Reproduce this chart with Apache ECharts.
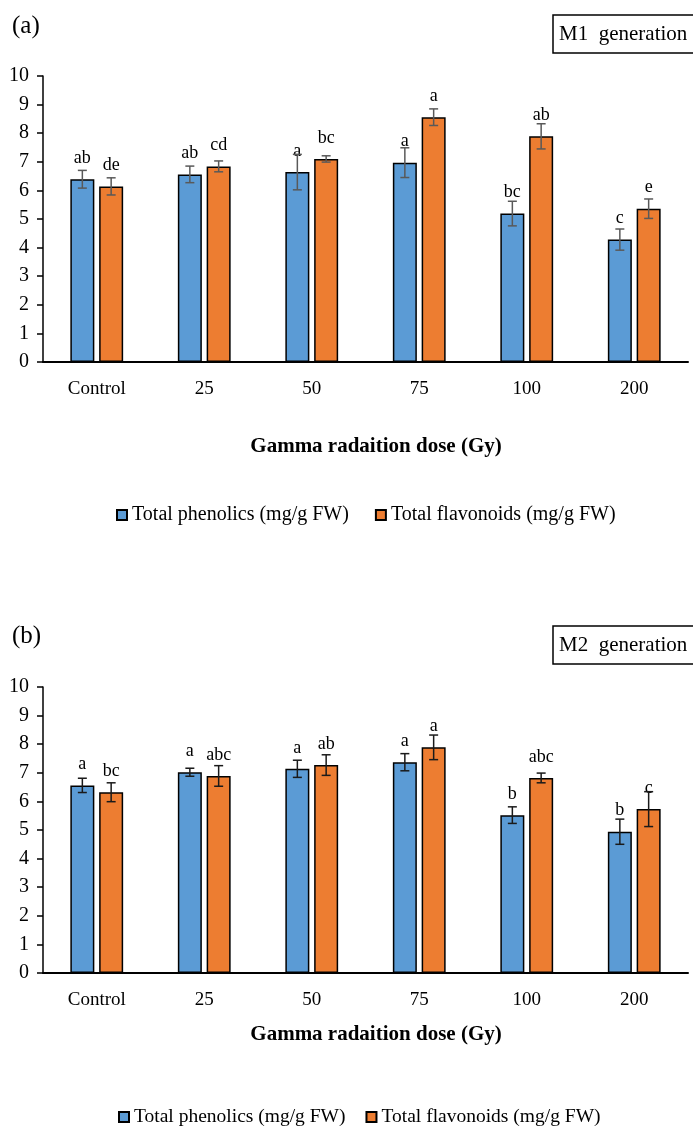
<!DOCTYPE html>
<html>
<head>
<meta charset="utf-8">
<script src="https://cdn.jsdelivr.net/npm/echarts@6/dist/echarts.min.js"></script>
<style>html,body{margin:0;padding:0;background:#fff;}#c{width:693px;height:1127px;}</style>
</head>
<body>
<div id="c"></div>
<script>
const categories = ['Control', '25', '50', '75', '100', '200'];
const seriesNames = ['Total phenolics (mg/g FW)', 'Total flavonoids (mg/g FW)'];

const m1Phenolics = [6.39, 6.56, 6.64, 6.97, 5.19, 4.28];
const m1PhenolicsErr = [0.31, 0.29, 0.62, 0.52, 0.43, 0.37];
const m1PhenolicsLetters = ['ab', 'ab', 'a', 'a', 'bc', 'c'];
const m1Flavonoids = [6.14, 6.84, 7.10, 8.56, 7.89, 5.36];
const m1FlavonoidsErr = [0.30, 0.19, 0.11, 0.29, 0.44, 0.34];
const m1FlavonoidsLetters = ['de', 'cd', 'bc', 'a', 'ab', 'e'];

const m2Phenolics = [6.56, 7.02, 7.14, 7.37, 5.52, 4.94];
const m2PhenolicsErr = [0.25, 0.14, 0.30, 0.30, 0.29, 0.44];
const m2PhenolicsLetters = ['a', 'a', 'a', 'a', 'b', 'b'];
const m2Flavonoids = [6.32, 6.89, 7.27, 7.89, 6.82, 5.73];
const m2FlavonoidsErr = [0.33, 0.36, 0.36, 0.43, 0.17, 0.61];
const m2FlavonoidsLetters = ['bc', 'abc', 'ab', 'a', 'abc', 'c'];

const yTicks = { min: 0, max: 10, interval: 1 };

const FONT = "'Liberation Serif','Times New Roman',serif";
const BLUE = '#5B9BD5';
const ORANGE = '#ED7D31';
const BAR_W = 24;
const GAP_FRAC = 0.2;
const OFFSET = BAR_W / 2 + BAR_W * GAP_FRAC / 2;

function barSeries(name, values, letters, color, axisIdx) {
  return {
    type: 'bar', name: name, xAxisIndex: axisIdx, yAxisIndex: axisIdx,
    data: values, barWidth: BAR_W, barGap: (GAP_FRAC * 100) + '%',
    itemStyle: { color: color, borderColor: '#000', borderWidth: 1.5 },
    label: {
      show: true, position: 'top', distance: 12, color: '#000',
      fontFamily: FONT, fontSize: 18,
      formatter: function (p) { return letters[p.dataIndex]; }
    },
    z: 2
  };
}

function errSeries(values, errs, side, axisIdx, stroke) {
  return {
    type: 'custom', xAxisIndex: axisIdx, yAxisIndex: axisIdx, silent: true, z: 5,
    data: values.map(function (v, i) { return [i, v, errs[i]]; }),
    encode: { x: 0, y: 1 },
    renderItem: function (params, api) {
      const i = api.value(0), v = api.value(1), e = api.value(2);
      const c = api.coord([i, v]);
      const x = c[0] + side * OFFSET;
      const hi = api.coord([i, v + e])[1];
      const lo = api.coord([i, v - e])[1];
      const st = { stroke: stroke, lineWidth: 1.5 };
      return {
        type: 'group', children: [
          { type: 'line', shape: { x1: x, y1: hi, x2: x, y2: lo }, style: st },
          { type: 'line', shape: { x1: x - 4.5, y1: hi, x2: x + 4.5, y2: hi }, style: st },
          { type: 'line', shape: { x1: x - 4.5, y1: lo, x2: x + 4.5, y2: lo }, style: st }
        ]
      };
    }
  };
}

function xAxisCfg(idx) {
  return {
    type: 'category', gridIndex: idx, data: categories,
    axisLine: { lineStyle: { color: '#000', width: 2 } },
    axisTick: { show: false },
    axisLabel: { color: '#000', fontFamily: FONT, fontSize: 19, margin: 18 }
  };
}
function yAxisCfg(idx) {
  return {
    type: 'value', gridIndex: idx, min: yTicks.min, max: yTicks.max, interval: yTicks.interval,
    axisLine: { show: true, lineStyle: { color: '#000', width: 1.5 } },
    axisTick: { show: true, length: 6, lineStyle: { color: '#000', width: 1.5 } },
    splitLine: { show: false },
    axisLabel: { color: '#000', fontFamily: FONT, fontSize: 20, margin: 14 }
  };
}

function txt(x, y, s, size, opts) {
  return Object.assign({
    type: 'text', x: x, y: y, silent: true,
    style: Object.assign({ text: s, fill: '#000', fontFamily: FONT, fontSize: size }, opts || {})
  });
}

const chart = echarts.init(document.getElementById('c'), null, { renderer: 'canvas' });
chart.setOption({
  backgroundColor: '#fff',
  animation: false,
  grid: [
    { left: 43, right: 5, top: 76, height: 286 },
    { left: 43, right: 5, top: 687, height: 286 }
  ],
  xAxis: [xAxisCfg(0), xAxisCfg(1)],
  yAxis: [yAxisCfg(0), yAxisCfg(1)],
  legend: [
    {
      left: 111, top: 500, itemWidth: 10, itemHeight: 10, itemGap: 26, icon: 'rect',
      data: seriesNames, selectedMode: false,
      textStyle: { color: '#000', fontFamily: FONT, fontSize: 20 }
    },
    {
      left: 113, top: 1102, itemWidth: 10, itemHeight: 10, itemGap: 20, icon: 'rect',
      data: seriesNames, selectedMode: false,
      textStyle: { color: '#000', fontFamily: FONT, fontSize: 19.5 }
    }
  ],
  series: [
    barSeries(seriesNames[0], m1Phenolics, m1PhenolicsLetters, BLUE, 0),
    barSeries(seriesNames[1], m1Flavonoids, m1FlavonoidsLetters, ORANGE, 0),
    barSeries(seriesNames[0], m2Phenolics, m2PhenolicsLetters, BLUE, 1),
    barSeries(seriesNames[1], m2Flavonoids, m2FlavonoidsLetters, ORANGE, 1),
    errSeries(m1Phenolics, m1PhenolicsErr, -1, 0, '#595959'),
    errSeries(m1Flavonoids, m1FlavonoidsErr, 1, 0, '#595959'),
    errSeries(m2Phenolics, m2PhenolicsErr, -1, 1, '#1a1a1a'),
    errSeries(m2Flavonoids, m2FlavonoidsErr, 1, 1, '#1a1a1a')
  ],
  graphic: [
    txt(12, 14, '(a)', 25),
    { type: 'rect', shape: { x: 553, y: 15, width: 150, height: 38 }, style: { fill: '#fff', stroke: '#000', lineWidth: 1.5 }, silent: true },
    txt(559, 34, 'M1  generation', 21, { verticalAlign: 'middle' }),
    txt(376, 447, 'Gamma radaition dose (Gy)', 21, { align: 'center', verticalAlign: 'middle', fontWeight: 'bold' }),
    txt(12, 624, '(b)', 25),
    { type: 'rect', shape: { x: 553, y: 626, width: 150, height: 38 }, style: { fill: '#fff', stroke: '#000', lineWidth: 1.5 }, silent: true },
    txt(559, 645, 'M2  generation', 21, { verticalAlign: 'middle' }),
    txt(376, 1035, 'Gamma radaition dose (Gy)', 21, { align: 'center', verticalAlign: 'middle', fontWeight: 'bold' })
  ]
});
</script>
</body>
</html>
